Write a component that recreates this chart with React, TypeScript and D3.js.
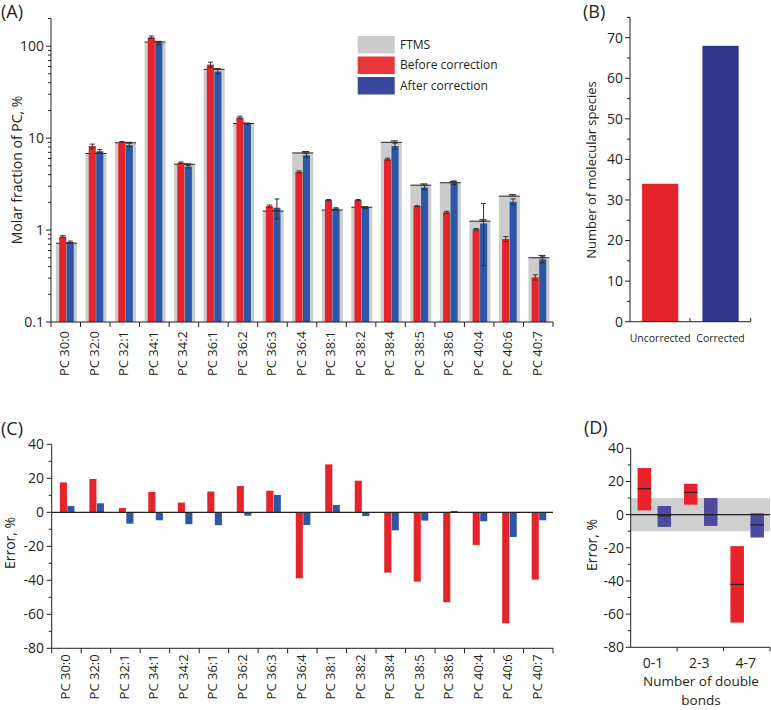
import React from "react";
import * as d3 from "d3";

const categories = ["PC 30:0","PC 32:0","PC 32:1","PC 34:1","PC 34:2","PC 36:1","PC 36:2","PC 36:3","PC 36:4","PC 38:1","PC 38:2","PC 38:4","PC 38:5","PC 38:6","PC 40:4","PC 40:6","PC 40:7"];
const ftms = [0.72, 6.8, 8.9, 111, 5.2, 56, 14.4, 1.61, 6.9, 1.65, 1.77, 9.0, 3.08, 3.27, 1.25, 2.34, 0.5];
const ftmsErr = [0.01, 0.1, 0.1, 2, 0.05, 1, 0.2, 0.02, 0.25, 0.02, 0.02, 0.35, 0.1, 0.1, 0.05, 0.1, 0.03];
const before = [0.85, 8.2, 9.1, 125, 5.4, 63, 16.8, 1.82, 4.3, 2.12, 2.12, 5.9, 1.82, 1.56, 1.02, 0.8, 0.306];
const beforeErr = [0.02, 0.4, 0.1, 4, 0.1, 4, 0.5, 0.05, 0.1, 0.03, 0.03, 0.15, 0.02, 0.04, 0.02, 0.05, 0.02];
const after = [0.74, 7.2, 8.4, 108, 4.9, 53, 14.2, 1.75, 6.5, 1.72, 1.75, 8.2, 2.91, 3.27, 1.18, 2.03, 0.48];
const afterErr = [0.02, 0.3, 0.4, 3, 0.15, 3, 0.2, 0.43, 0.3, 0.03, 0.03, 0.6, 0.15, 0.15, 0.77, 0.15, 0.04];

const bCategories = ["Uncorrected", "Corrected"];
const bValues = [34, 68];

const errBefore = [17.6, 19.6, 2.5, 12, 5.7, 12.2, 15.5, 12.7, -38.8, 28.2, 18.6, -35.5, -40.8, -52.9, -19.2, -65.3, -39.6];
const errAfter = [3.7, 5.3, -6.7, -4.7, -7, -7.6, -2, 10.2, -7.5, 4.3, -2.2, -10.6, -4.9, 0.8, -5.3, -14.5, -4.7];

const dCategories = ["0-1", "2-3", "4-7"];
const dRedMin = [2.6, 6.0, -65.1];
const dRedMax = [28.1, 18.6, -19.0];
const dRedMed = [15.6, 13.4, -42.1];
const dBlueMin = [-7.4, -6.8, -13.8];
const dBlueMax = [5.2, 10.0, 0.8];
const dBlueMed = [-0.8, 0, -6.2];

const legendLabels = ["FTMS", "Before correction", "After correction"];

const FONT = "'Open Sans', 'Noto Sans', sans-serif";
const INK = "#231f20";
const RED = "#e3242b";
const BLUE = "#2b57a6";
const GRAY = "#cccccc";
const NAVY = "#2f3689";
const PURPLE = "#4d4aa2";

function ErrBar({ x, y1, y2, w = 5 }: { x: number; y1: number; y2: number; w?: number }) {
  return (
    <g stroke="#333" strokeWidth={1}>
      <line x1={x} x2={x} y1={y1} y2={y2} />
      <line x1={x - w / 2} x2={x + w / 2} y1={y1} y2={y1} />
      <line x1={x - w / 2} x2={x + w / 2} y1={y2} y2={y2} />
    </g>
  );
}

function PanelA() {
  const x = d3.scaleBand<string>().domain(categories).range([51, 553]);
  const y = d3.scaleLog().domain([0.1, 200]).range([322, 18.5]);
  const base = 322;
  const major = [0.1, 1, 10, 100];
  const minor: number[] = [];
  major.forEach((d) => { for (let k = 2; k <= 9; k++) if (d * k <= 200) minor.push(d * k); });
  const bw = x.bandwidth();
  return (
    <g>
      {categories.map((c, i) => {
        const cx = (x(c) as number) + bw / 2 + 0.7;
        const gT = y(ftms[i]);
        const rT = y(before[i]);
        const bT = y(after[i]);
        return (
          <g key={c}>
            <rect x={cx - 10.5} y={gT} width={21} height={base - gT} fill={GRAY} />
            <line x1={cx - 10.5} x2={cx + 10.5} y1={gT} y2={gT} stroke="#222" strokeWidth={1} />
            <rect x={cx - 7.3} y={rT} width={7.1} height={base - rT} fill={RED} />
            <rect x={cx + 0.2} y={bT} width={7.1} height={base - bT} fill={BLUE} />
            <ErrBar x={cx + 3} y1={y(ftms[i] + ftmsErr[i])} y2={gT} w={7} />
            <ErrBar x={cx - 3.7} y1={y(before[i] + beforeErr[i])} y2={y(Math.max(before[i] - beforeErr[i], 0.11))} />
            <ErrBar x={cx + 3.7} y1={y(after[i] + afterErr[i])} y2={y(Math.max(after[i] - afterErr[i], 0.11))} />
          </g>
        );
      })}
      <line x1={51} x2={51} y1={18.5} y2={base} stroke={INK} strokeWidth={1} />
      <line x1={51} x2={553} y1={base} y2={base} stroke={INK} strokeWidth={1} />
      {major.map((t) => (
        <g key={"M" + t}>
          <line x1={46} x2={51} y1={y(t)} y2={y(t)} stroke={INK} />
          <text x={44} y={y(t)} dy="0.35em" textAnchor="end" fontSize={14} fill={INK}>{t}</text>
        </g>
      ))}
      {minor.map((t) => (
        <line key={"m" + t} x1={48} x2={51} y1={y(t)} y2={y(t)} stroke={INK} />
      ))}
      {categories.map((c) => (
        <line key={"t" + c} x1={x(c) as number} x2={x(c) as number} y1={base} y2={base + 5} stroke={INK} />
      ))}
      <line x1={553} x2={553} y1={base} y2={base + 5} stroke={INK} />
      {categories.map((c) => (
        <text key={"l" + c} transform={`translate(${(x(c) as number) + bw / 2 - 1},${base + 9}) rotate(-90)`} textAnchor="end" dy="0.35em" fontSize={13} fill={INK}>{c}</text>
      ))}
      <text transform="translate(22,170) rotate(-90)" textAnchor="middle" fontSize={14} fill={INK}>Molar fraction of PC, %</text>
      <text x={1} y={18} fontSize={18} fill={INK}>(A)</text>
      {legendLabels.map((l, i) => (
        <g key={l}>
          <rect x={357.7} y={36 + i * 20.5} width={37} height={17.5} fill={[GRAY, "#e8353a", "#3b479f"][i]} />
          <text x={400} y={36 + i * 20.5 + 8.7} dy="0.35em" fontSize={12} fill={INK}>{l}</text>
        </g>
      ))}
    </g>
  );
}

function PanelB() {
  const x = d3.scaleBand<string>().domain(bCategories).range([630, 750.7]).paddingInner(0.4).paddingOuter(0.2);
  const y = d3.scaleLinear().domain([0, 75]).range([321.7, 17.4]);
  const ticks = d3.range(0, 71, 10);
  const minor = d3.range(5, 76, 10);
  return (
    <g>
      {bCategories.map((c, i) => (
        <rect key={c} x={x(c) as number} y={y(bValues[i])} width={x.bandwidth()} height={y(0) - y(bValues[i])} fill={i === 0 ? RED : NAVY} />
      ))}
      <line x1={630} x2={630} y1={17.4} y2={321.7} stroke={INK} />
      <line x1={630} x2={750.7} y1={321.7} y2={321.7} stroke={INK} />
      <line x1={690} x2={690} y1={321.7} y2={318} stroke={INK} />
      <line x1={750.7} x2={750.7} y1={321.7} y2={318} stroke={INK} />
      {ticks.map((t) => (
        <g key={t}>
          <line x1={625} x2={630} y1={y(t)} y2={y(t)} stroke={INK} />
          <text x={623} y={y(t)} dy="0.35em" textAnchor="end" fontSize={14} fill={INK}>{t}</text>
        </g>
      ))}
      {minor.map((t) => (
        <line key={"m" + t} x1={627} x2={630} y1={y(t)} y2={y(t)} stroke={INK} />
      ))}
      {bCategories.map((c) => (
        <text key={"l" + c} x={(x(c) as number) + x.bandwidth() / 2} y={342} textAnchor="middle" fontSize={10.5} fill={INK}>{c}</text>
      ))}
      <text transform="translate(596,170) rotate(-90)" textAnchor="middle" fontSize={13} fill={INK}>Number of molecular species</text>
      <text x={583} y={18} fontSize={18} fill={INK}>(B)</text>
    </g>
  );
}

function PanelC() {
  const x = d3.scaleBand<string>().domain(categories).range([51.7, 553]);
  const y = d3.scaleLinear().domain([-80, 40]).range([648.3, 444.3]);
  const bw = x.bandwidth();
  const ticks = d3.range(-80, 41, 20);
  const minor = d3.range(-70, 40, 20);
  return (
    <g>
      {categories.map((c, i) => {
        const cx = (x(c) as number) + bw / 2 + 0.7;
        return (
          <g key={c}>
            <rect x={cx - 7.3} y={Math.min(y(0), y(errBefore[i]))} width={7.1} height={Math.abs(y(errBefore[i]) - y(0))} fill={RED} />
            <rect x={cx + 0.2} y={Math.min(y(0), y(errAfter[i]))} width={7.1} height={Math.abs(y(errAfter[i]) - y(0))} fill={BLUE} />
          </g>
        );
      })}
      <line x1={51.7} x2={553} y1={y(0)} y2={y(0)} stroke={INK} strokeWidth={1.2} />
      <line x1={51.7} x2={51.7} y1={y(40)} y2={y(-80)} stroke={INK} />
      <line x1={51.7} x2={553} y1={y(-80)} y2={y(-80)} stroke={INK} />
      {ticks.map((t) => (
        <g key={t}>
          <line x1={46.7} x2={51.7} y1={y(t)} y2={y(t)} stroke={INK} />
          <text x={44} y={y(t)} dy="0.35em" textAnchor="end" fontSize={14} fill={INK}>{t}</text>
        </g>
      ))}
      {minor.map((t) => (
        <line key={"m" + t} x1={48.7} x2={51.7} y1={y(t)} y2={y(t)} stroke={INK} />
      ))}
      {categories.map((c) => (
        <line key={"t" + c} x1={x(c) as number} x2={x(c) as number} y1={y(-80)} y2={y(-80) + 5} stroke={INK} />
      ))}
      <line x1={553} x2={553} y1={y(-80)} y2={y(-80) + 5} stroke={INK} />
      {categories.map((c) => (
        <text key={"l" + c} transform={`translate(${(x(c) as number) + bw / 2 - 1},${y(-80) + 6}) rotate(-90)`} textAnchor="end" dy="0.35em" fontSize={13} fill={INK}>{c}</text>
      ))}
      <text transform="translate(15,543) rotate(-90)" textAnchor="middle" fontSize={14} fill={INK}>Error, %</text>
      <text x={1} y={435} fontSize={18} fill={INK}>(C)</text>
    </g>
  );
}

function PanelD() {
  const x = d3.scaleBand<string>().domain(dCategories).range([630.7, 770]);
  const y = d3.scaleLinear().domain([-80, 40]).range([647.3, 448.3]);
  const bw = x.bandwidth();
  const ticks = d3.range(-80, 41, 20);
  const minor = d3.range(-70, 40, 20);
  const boxW = 13.5;
  return (
    <g>
      <rect x={630.7} y={y(10)} width={770 - 630.7} height={y(-10) - y(10)} fill="#cfcfcf" />
      {dCategories.map((c, i) => {
        const cx = (x(c) as number) + bw / 2;
        const rc = cx - 9.6;
        const bc = cx + 10.4;
        return (
          <g key={c}>
            <rect x={rc - boxW / 2} y={y(dRedMax[i])} width={boxW} height={y(dRedMin[i]) - y(dRedMax[i])} fill="#e8212b" />
            <line x1={rc - boxW / 2} x2={rc + boxW / 2} y1={y(dRedMed[i])} y2={y(dRedMed[i])} stroke="#222" strokeWidth={1.2} />
            <rect x={bc - boxW / 2} y={y(dBlueMax[i])} width={boxW} height={y(dBlueMin[i]) - y(dBlueMax[i])} fill={PURPLE} />
            <line x1={bc - boxW / 2} x2={bc + boxW / 2} y1={y(dBlueMed[i])} y2={y(dBlueMed[i])} stroke="#222" strokeWidth={1.2} />
          </g>
        );
      })}
      <line x1={630.7} x2={770} y1={y(0)} y2={y(0)} stroke={INK} strokeWidth={1.2} />
      <line x1={630.7} x2={630.7} y1={y(40)} y2={y(-80)} stroke={INK} />
      <line x1={630.7} x2={770} y1={y(-80)} y2={y(-80)} stroke={INK} />
      {ticks.map((t) => (
        <g key={t}>
          <line x1={625.7} x2={630.7} y1={y(t)} y2={y(t)} stroke={INK} />
          <text x={624} y={y(t)} dy="0.35em" textAnchor="end" fontSize={14} fill={INK}>{t}</text>
        </g>
      ))}
      {minor.map((t) => (
        <line key={"m" + t} x1={627.7} x2={630.7} y1={y(t)} y2={y(t)} stroke={INK} />
      ))}
      {dCategories.map((c) => (
        <line key={"t" + c} x1={(x(c) as number) + bw} x2={(x(c) as number) + bw} y1={y(-80)} y2={y(-80) + 4} stroke={INK} />
      ))}
      {dCategories.map((c) => (
        <text key={"l" + c} x={(x(c) as number) + bw / 2 - 1} y={668} textAnchor="middle" fontSize={14} fill={INK}>{c}</text>
      ))}
      <text x={701} y={686} textAnchor="middle" fontSize={13.5} fill={INK}>Number of double</text>
      <text x={701} y={705} textAnchor="middle" fontSize={13.5} fill={INK}>bonds</text>
      <text transform="translate(597,545) rotate(-90)" textAnchor="middle" fontSize={14} fill={INK}>Error, %</text>
      <text x={584} y={434} fontSize={18} fill={INK}>(D)</text>
    </g>
  );
}

export default function App() {
  return (
    <svg width={771} height={710} viewBox="0 0 771 710" style={{ position: "absolute", left: 0, top: 0, display: "block", background: "#fff" }} fontFamily={FONT}>
      <rect width={771} height={710} fill="#fff" />
      <PanelA />
      <PanelB />
      <PanelC />
      <PanelD />
    </svg>
  );
}
